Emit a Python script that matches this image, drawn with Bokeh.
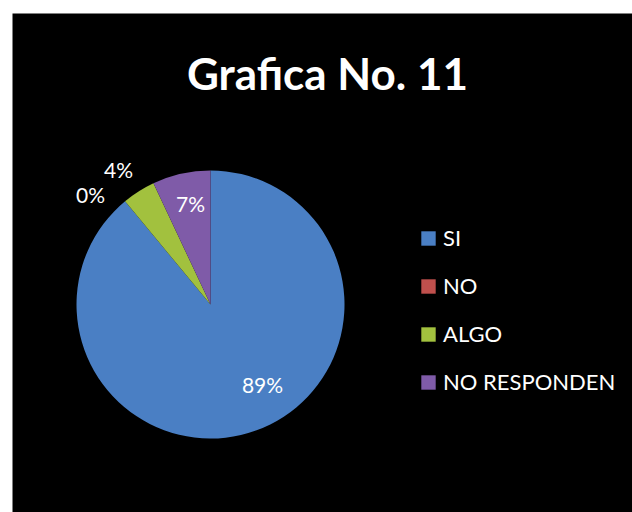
import numpy as np
from bokeh.plotting import figure
from bokeh.models import ColumnDataSource, Range1d, Legend, LegendItem, Label
from bokeh.core.properties import value
from bokeh.embed import file_html
from bokeh.resources import INLINE

# ---- data ----
categories = ["SI", "NO", "ALGO", "NO RESPONDEN"]
percentages = [89, 0, 4, 7]
colors = ["#4A7FC4", "#C0504D", "#A2C13E", "#7F5BA8"]
chart_title = "Grafica No. 11"

# ---- layout (page pixel coordinates; data y = 512 - page y) ----
W, H = 632, 512
PAGE_H = 512
def py(y):
    return PAGE_H - y

cx, cy, R = 210, py(304), 134
# label centres (page coords) for each category
label_x = [262, 90, 118, 190]
label_y = [py(384), py(194), py(169), py(203)]

vals = np.array(percentages, dtype=float)
cum = np.cumsum(vals) / vals.sum()
ends = np.pi / 2 - 2 * np.pi * cum
starts = np.concatenate([[np.pi / 2], ends[:-1]])
nz = vals > 0

wedge_src = ColumnDataSource(dict(
    cat=[c for c, k in zip(categories, nz) if k],
    start=starts[nz], end=ends[nz],
    color=[c for c, k in zip(colors, nz) if k],
))
label_src = ColumnDataSource(dict(
    lx=label_x, ly=label_y, txt=[f"{int(v)}%" for v in percentages],
))
legend_src = ColumnDataSource(dict(
    x=[np.nan] * len(categories), y=[np.nan] * len(categories), color=colors,
))

p = figure(width=W, height=H, output_backend="svg", toolbar_location=None,
           x_range=Range1d(12, 632), y_range=Range1d(py(512), py(13)),
           x_axis_location=None, y_axis_location=None,
           min_border_left=12, min_border_top=13, min_border_right=0, min_border_bottom=0,
           border_fill_color="white", background_fill_color="black")
p.outline_line_color = None
p.grid.visible = False

p.wedge(x=cx, y=cy, radius=R, start_angle="start", end_angle="end",
        direction="clock", fill_color="color", line_color=None, source=wedge_src)

p.text(x="lx", y="ly", text="txt", source=label_src, text_color="white",
       text_font=value("Lato"), text_font_size="21px",
       text_align="center", text_baseline="middle")

p.add_layout(Label(x=327, y=py(72), text=chart_title, text_color="white",
                   text_font="Lato", text_font_style="bold", text_font_size="44px",
                   text_align="center", text_baseline="middle"))

lr = p.rect(x="x", y="y", width=1, height=1, fill_color="color", line_color=None,
            source=legend_src)
items = [LegendItem(label=c, renderers=[lr], index=i) for i, c in enumerate(categories)]
legend = Legend(items=items, location=(407, 512 - 395),
                label_text_color="white", label_text_font="Lato",
                label_text_font_size="22px", glyph_width=18, glyph_height=18,
                label_standoff=6, spacing=21, padding=0, margin=0,
                border_line_color=None, background_fill_alpha=0)
p.add_layout(legend)

open("out.html", "w").write(file_html(p, INLINE))
